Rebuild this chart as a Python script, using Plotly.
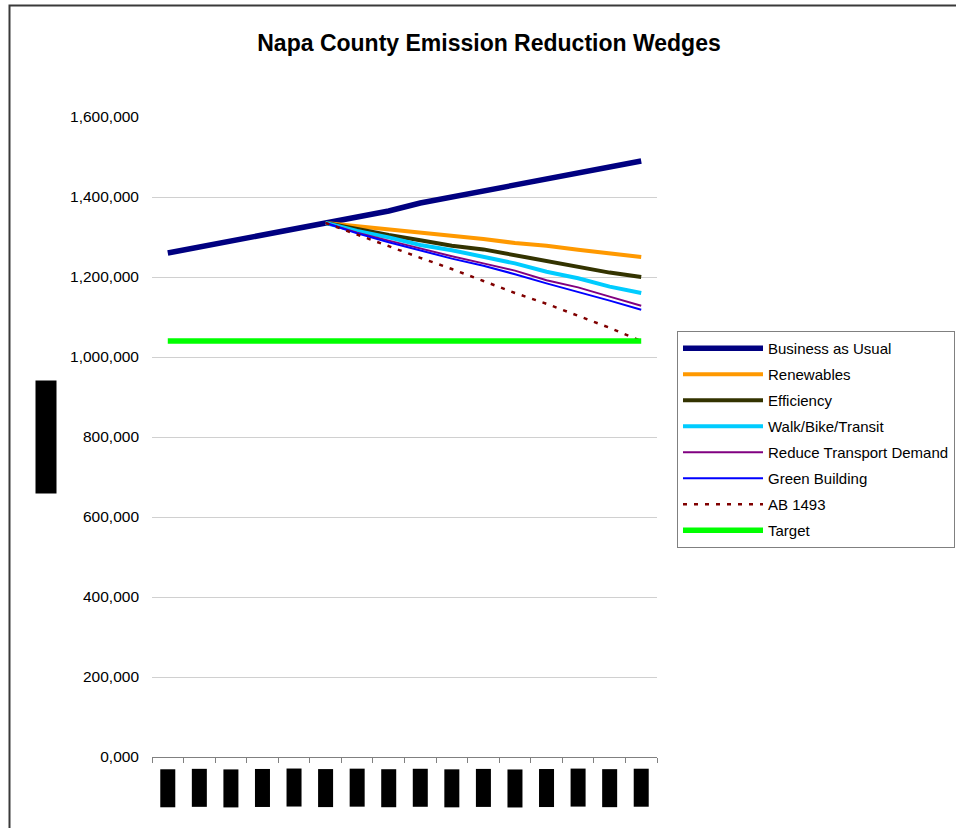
import plotly.graph_objects as go

years = [str(y) for y in range(2005, 2021)]
y_title = "Metric Tons CO2e"

bau = [1260000, 1275000, 1290000, 1305000, 1320000, 1335000, 1350000, 1365000,
       1385000, 1400000, 1415000, 1430000, 1445000, 1460000, 1475000, 1490000]
pre = [None] * 5
renewables = pre + [1335000, 1327000, 1318000, 1310000, 1304000, 1295000,
                    1285000, 1278000, 1268000, 1258000, 1250000]
efficiency = pre + [1335000, 1319000, 1305000, 1292000, 1278000, 1269000,
                    1255000, 1240000, 1226000, 1211000, 1200000]
walk_bike = pre + [1335000, 1315000, 1299000, 1280000, 1267000, 1251000,
                   1234000, 1213000, 1197000, 1176000, 1160000]
reduce_transport = pre + [1335000, 1311000, 1291000, 1271000, 1252000, 1234000,
                          1216000, 1192000, 1174000, 1151000, 1128000]
green_building = pre + [1335000, 1309000, 1287000, 1266000, 1246000, 1228000,
                        1207000, 1184000, 1163000, 1141000, 1118000]
ab1493 = pre + [1335000, 1305000, 1277000, 1248000, 1220000, 1190000,
                1160000, 1133000, 1103000, 1073000, 1040000]
target = [1040000] * 16

y_ticks = [0, 200000, 400000, 600000, 800000, 1000000, 1200000, 1400000, 1600000]
y_ticktext = ["0,000", "200,000", "400,000", "600,000", "800,000",
              "1,000,000", "1,200,000", "1,400,000", "1,600,000"]

series = [
    ("Business as Usual", bau, "#000080", 5.5, "solid"),
    ("Renewables", renewables, "#FF9900", 4, "solid"),
    ("Efficiency", efficiency, "#333300", 4, "solid"),
    ("Walk/Bike/Transit", walk_bike, "#00CCFF", 4, "solid"),
    ("Reduce Transport Demand", reduce_transport, "#800080", 2, "solid"),
    ("Green Building", green_building, "#0000FF", 2, "solid"),
    ("AB 1493", ab1493, "#800000", 2.5, "4px,7px"),
    ("Target", target, "#00FF00", 5.5, "solid"),
]

FONT = "Liberation Sans, Arial, sans-serif"

fig = go.Figure()
for name, vals, color, width, dash in series:
    fig.add_trace(go.Scatter(
        x=years, y=vals, name=name, mode="lines",
        line=dict(color=color, width=width, dash=dash),
        legendgroup=name,
    ))

annotations = []
for i, yr in enumerate(years):
    annotations.append(dict(
        x=i, xref="x", y=-31 / 640, yref="paper",
        text=yr, showarrow=False, textangle=-90,
        width=35, height=12, bgcolor="black",
        font=dict(family=FONT, size=12, color="black"),
        xanchor="center", yanchor="middle", borderpad=1,
    ))
annotations.append(dict(
    x=(46 - 152) / 505, xref="paper", y=0.5, yref="paper",
    text=y_title, showarrow=False, textangle=-90,
    width=110, height=18, bgcolor="black",
    font=dict(family=FONT, size=13, color="black"),
    xanchor="center", yanchor="middle", borderpad=1,
))

fig.update_layout(
    width=956, height=828,
    margin=dict(l=152, r=299, t=117, b=71, autoexpand=False),
    paper_bgcolor="white", plot_bgcolor="white",
    font=dict(family=FONT, size=15, color="black"),
    title=dict(text="<b>Napa County Emission Reduction Wedges</b>",
               x=489 / 956, xanchor="center", xref="container",
               y=1 - 43 / 828, yanchor="middle", yref="container",
               font=dict(family=FONT, size=23, color="black")),
    xaxis=dict(type="category", showgrid=False, showline=True,
               linecolor="#808080", linewidth=1, ticks="outside",
               tickson="boundaries", ticklen=5, tickcolor="#808080",
               showticklabels=False, range=[-0.5, 15.5]),
    yaxis=dict(range=[0, 1600000], tickvals=y_ticks, ticktext=y_ticktext,
               showgrid=True, gridcolor="#d0d0d0", gridwidth=1,
               zeroline=False, showline=False, ticks="",
               ticklabelstandoff=12,
               tickfont=dict(family=FONT, size=15.5, color="black")),
    legend=dict(x=677 / 956, xanchor="left", xref="container",
                y=1 - 331 / 828, yanchor="top", yref="container",
                bordercolor="#808080", borderwidth=1, bgcolor="white",
                font=dict(family=FONT, size=15, color="black"),
                itemwidth=80, tracegroupgap=3.5),
    annotations=annotations,
    shapes=[dict(type="rect", xref="paper", yref="paper",
                 x0=(9.5 - 152) / 505, x1=(980 - 152) / 505,
                 y0=(757 - 850) / 640, y1=(757 - 5.5) / 640,
                 line=dict(color="#3a3a3a", width=2), layer="below")],
    showlegend=True,
)

fig.write_html("out.html")
